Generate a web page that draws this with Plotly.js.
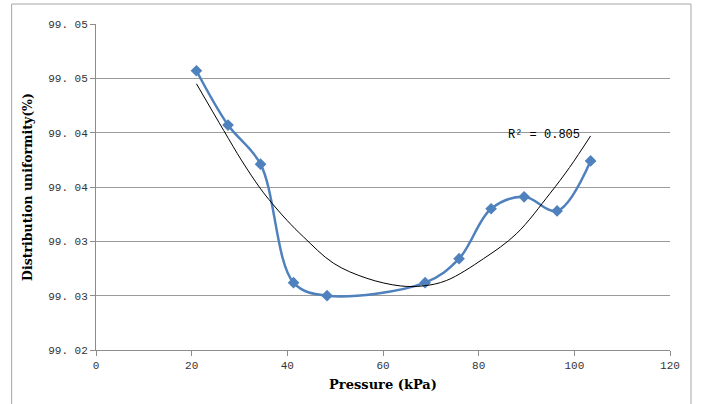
<!DOCTYPE html>
<html>
<head>
<meta charset="utf-8">
<script src="https://cdn.plot.ly/plotly-3.0.1.min.js"></script>
<style>
html,body{margin:0;padding:0;background:#fff;}
#chart{width:702px;height:404px;}
</style>
</head>
<body>
<div id="chart"></div>
<script>
// Measured data (Pressure kPa vs distribution uniformity %)
var pressure = [21, 27.6, 34.4, 41.3, 48.3, 68.8, 75.9, 82.6, 89.5, 96.4, 103.4];
var uniformity = [99.0457, 99.0407, 99.0371, 99.0262, 99.0250, 99.0262, 99.0284, 99.0330, 99.0341, 99.0328, 99.0374];

// Polynomial trend line
var trendX = [21.0, 26.7, 30.5, 34.3, 36.8, 40.0, 43.4, 49.6, 56.6, 63.6, 68.4, 73.3, 81.0, 87.9, 94.9, 99.0, 103.4];
var trendY = [99.0445, 99.0402, 99.0374, 99.0349, 99.0335, 99.0319, 99.0304, 99.0280, 99.0266, 99.0259, 99.0259, 99.0264, 99.0284, 99.0307, 99.0344, 99.0368, 99.0397];

// Axis ticks
var yTickVals = [99.020, 99.025, 99.030, 99.035, 99.040, 99.045, 99.050];
var yTickText = ["99. 02", "99. 03", "99. 03", "99. 04", "99. 04", "99. 05", "99. 05"];
var xTickVals = [0, 20, 40, 60, 80, 100, 120];
var xTickText = ["0", "20", "40", "60", "80", "100", "120"];

var r2Label = "R\u00B2 = 0.805";

var traces = [
  {
    x: pressure, y: uniformity, type: 'scatter', mode: 'lines+markers',
    line: {color: '#4F81BD', width: 2.5, shape: 'spline', smoothing: 1},
    marker: {symbol: 'diamond', size: 9, color: '#4F81BD'},
    hoverinfo: 'x+y', showlegend: false
  },
  {
    x: trendX, y: trendY, type: 'scatter', mode: 'lines',
    line: {color: '#000000', width: 1, shape: 'spline', smoothing: 1},
    showlegend: false
  }
];

var tickFont = {family: 'Liberation Mono, DejaVu Sans Mono, monospace', size: 11, color: '#333333'};

var layout = {
  width: 702, height: 404,
  margin: {l: 95.5, r: 32, t: 24, b: 54, pad: 0},
  paper_bgcolor: '#ffffff', plot_bgcolor: '#ffffff',
  showlegend: false,
  xaxis: {
    range: [0, 120], tickvals: xTickVals, ticktext: xTickText,
    showgrid: false, zeroline: false, showline: true, linecolor: '#8c8c8c', linewidth: 1,
    ticks: 'outside', ticklen: 5, tickcolor: '#8c8c8c', tickfont: tickFont,
    title: {text: 'Pressure (kPa)', font: {family: 'DejaVu Serif, serif', size: 13, color: '#000', weight: 'bold'}, standoff: 8}
  },
  yaxis: {
    range: [99.020, 99.050], tickvals: yTickVals, ticktext: yTickText,
    showgrid: true, gridcolor: '#9a9a9a', gridwidth: 1, zeroline: false,
    showline: true, linecolor: '#8c8c8c', linewidth: 1,
    ticks: 'outside', ticklen: 5, tickcolor: '#8c8c8c', tickfont: tickFont,
    title: {text: 'Distribution uniformity(%)', font: {family: 'DejaVu Serif, serif', size: 12.5, color: '#000', weight: 'bold'}, standoff: 12}
  },
  annotations: [
    {x: 93.6, y: 99.0398, xref: 'x', yref: 'y', text: r2Label, showarrow: false,
     font: {family: 'Liberation Mono, DejaVu Sans Mono, monospace', size: 12, color: '#000'},
     xanchor: 'center', yanchor: 'middle'}
  ],
  shapes: [
    {type: 'rect', xref: 'paper', yref: 'paper', x0: -0.147, x1: 1.0366, y0: -0.2, y1: 1.0613,
     line: {color: '#a6a6a6', width: 1}, fillcolor: 'rgba(0,0,0,0)', layer: 'below'},
    {type: 'line', xref: 'paper', yref: 'paper', x0: -0.149, x1: -0.149, y0: 1.0736, y1: 1.1,
     line: {color: '#222', width: 2}}
  ]
};

Plotly.newPlot('chart', traces, layout, {displayModeBar: false, staticPlot: true});
</script>
</body>
</html>
